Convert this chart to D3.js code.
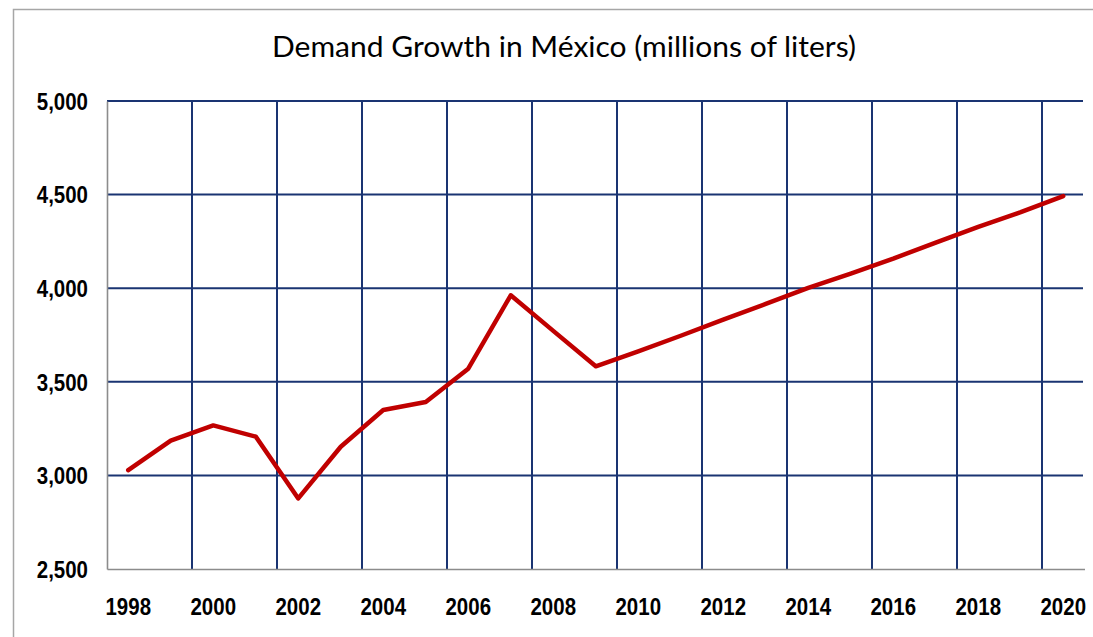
<!DOCTYPE html>
<html>
<head>
<meta charset="utf-8">
<script src="https://cdn.jsdelivr.net/npm/d3@7"></script>
<style>
  body { margin: 0; background: #fff; }
  svg { display: block; }
</style>
</head>
<body>
<svg id="chart" width="1093" height="637"></svg>
<script>
const width = 1093,
  height = 637

const title = 'Demand Growth in México (millions of liters)'
const years = [1998, 1999, 2000, 2001, 2002, 2003, 2004, 2005, 2006, 2007, 2008, 2009,
  2010, 2011, 2012, 2013, 2014, 2015, 2016, 2017, 2018, 2019, 2020]
const demand = [3028, 3186, 3267, 3207, 2877, 3153, 3349, 3392, 3570, 3962, 3772, 3583,
  3663, 3746, 3832, 3916, 4002, 4078, 4158, 4244, 4328, 4406, 4492]
const yTicks = [2500, 3000, 3500, 4000, 4500, 5000]
const xLabels = [1998, 2000, 2002, 2004, 2006, 2008, 2010, 2012, 2014, 2016, 2018, 2020]

const plot = { left: 107, right: 1084.5, top: 101, bottom: 569 }
const gridColor = '#1a3472'

let svg = d3.select('#chart')

// outer frame (runs off the right and bottom of the picture)
svg.append('path')
  .attr('d', `M13.5 ${height + 2} L13.5 9.5 L${width + 2} 9.5`)
  .attr('fill', 'none')
  .attr('stroke', '#a6a6a6')
  .attr('stroke-width', 1.5)

let x = d3.scaleBand()
  .domain(years)
  .range([plot.left, plot.right])
  .padding(0)

let y = d3.scaleLinear()
  .domain([2500, 5000])
  .range([plot.bottom, plot.top])

let grid = svg.append('g').attr('class', 'grid')

// horizontal grid
grid.selectAll('line.h')
  .data(yTicks.filter(t => t > 2500))
  .enter()
    .append('line')
    .attr('class', 'h')
    .attr('x1', plot.left)
    .attr('x2', plot.right - 1.5)
    .attr('y1', d => y(d))
    .attr('y2', d => y(d))
    .attr('stroke', gridColor)
    .attr('stroke-width', 2)

// vertical grid on the boundary before each labelled even year
grid.selectAll('line.v')
  .data(xLabels.filter(yr => yr > 1998))
  .enter()
    .append('line')
    .attr('class', 'v')
    .attr('x1', d => x(d))
    .attr('x2', d => x(d))
    .attr('y1', plot.top)
    .attr('y2', plot.bottom)
    .attr('stroke', gridColor)
    .attr('stroke-width', 2)

// axes
let yAxis = svg.append('g')
  .attr('transform', `translate(${plot.left},0)`)
  .call(d3.axisLeft(y).tickValues(yTicks).tickFormat(d3.format(',')).tickSize(0).tickPadding(19))

let xAxis = svg.append('g')
  .attr('transform', `translate(0,${plot.bottom})`)
  .call(d3.axisBottom(x).tickValues(xLabels).tickSize(0).tickPadding(30))

;[yAxis, xAxis].forEach(ax => {
  ax.select('.domain')
    .attr('stroke', '#8c8c8c')
    .attr('stroke-width', 1.6)
  ax.selectAll('text')
    .attr('fill', '#000')
    .style('font-family', '"Liberation Sans", Arial, sans-serif')
    .style('font-weight', 'bold')
    .style('font-size', '23px')
    .each(function() {
      let w = this.getComputedTextLength()
      d3.select(this)
        .attr('textLength', w * 0.89)
        .attr('lengthAdjust', 'spacingAndGlyphs')
    })
})
yAxis.selectAll('text').attr('dy', '0.36em')

// the series
let line = d3.line()
  .x((d, i) => x(years[i]) + x.bandwidth() / 2)
  .y(d => y(d))

svg.append('path')
  .datum(demand)
  .attr('d', line)
  .attr('fill', 'none')
  .attr('stroke', '#c00000')
  .attr('stroke-width', 4.5)
  .attr('stroke-linejoin', 'round')
  .attr('stroke-linecap', 'round')

// title
svg.append('text')
  .attr('x', 564)
  .attr('y', 57)
  .attr('text-anchor', 'middle')
  .style('font-family', 'Lato, "Open Sans", sans-serif')
  .style('font-size', '29px')
  .attr('fill', '#000')
  .attr('textLength', 584)
  .attr('lengthAdjust', 'spacingAndGlyphs')
  .text(title)
</script>
</body>
</html>
